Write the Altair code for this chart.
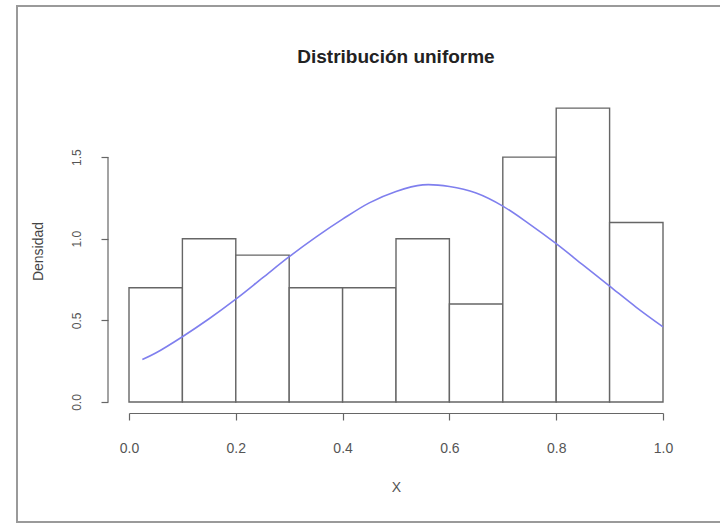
import altair as alt
import pandas as pd

# Histogram bins (density)
bin_start = [0.0, 0.1, 0.2, 0.3, 0.4, 0.5, 0.6, 0.7, 0.8, 0.9]
bin_end = [0.1, 0.2, 0.3, 0.4, 0.5, 0.6, 0.7, 0.8, 0.9, 1.0]
density = [0.7, 1.0, 0.9, 0.7, 0.7, 1.0, 0.6, 1.5, 1.8, 1.1]

# Density curve points
curve_x = [0.025, 0.05, 0.10, 0.15, 0.20, 0.25, 0.30, 0.35, 0.40, 0.45, 0.50,
           0.55, 0.60, 0.65, 0.70, 0.75, 0.80, 0.85, 0.90, 0.95, 1.00]
curve_y = [0.26, 0.30, 0.40, 0.51, 0.63, 0.76, 0.89, 1.01, 1.12, 1.22, 1.29,
           1.33, 1.32, 1.28, 1.20, 1.09, 0.97, 0.84, 0.71, 0.58, 0.46]

x_ticks = [0.0, 0.2, 0.4, 0.6, 0.8, 1.0]
y_ticks = [0.0, 0.5, 1.0, 1.5]

bars_df = pd.DataFrame({"start": bin_start, "end": bin_end, "density": density})
curve_df = pd.DataFrame({"x": curve_x, "y": curve_y})
yaxis_df = pd.DataFrame({"lo": [min(y_ticks)], "hi": [max(y_ticks)]})

FONT = "Liberation Sans"
AX_COLOR = "#666666"

xscale = alt.Scale(domain=[0, 1], nice=False, zero=False)
yscale = alt.Scale(domain=[0, 1.85], nice=False)

x_axis = alt.Axis(values=x_ticks, format=".1f", grid=False, offset=11,
                  domainColor=AX_COLOR, tickColor=AX_COLOR, tickSize=7,
                  domainWidth=1.2, tickWidth=1.2,
                  labelColor="#555555", labelFontSize=14, labelFont=FONT,
                  labelPadding=21, title="X", titleFont=FONT, titleFontSize=14,
                  titleColor="#555555", titleFontWeight="normal", titlePadding=25,
                  labelFlush=False)

y_axis = alt.Axis(values=y_ticks, format=".1f", grid=False, offset=21,
                  domain=False, tickColor=AX_COLOR, tickSize=7, tickWidth=1.2,
                  labelColor="#555555", labelFontSize=12, labelFont=FONT,
                  labelAngle=270, labelAlign="center", labelBaseline="bottom",
                  labelPadding=18, title="Densidad", titleFont=FONT, titleFontSize=14,
                  titleColor="#444444", titleFontWeight="normal", titlePadding=25)

bars = alt.Chart(bars_df).mark_rect(fill="white", stroke="#666666", strokeWidth=1.4).encode(
    x=alt.X("start:Q", scale=xscale, axis=x_axis),
    x2="end:Q",
    y=alt.Y("density:Q", scale=yscale, axis=y_axis),
    y2=alt.datum(0),
)

curve = alt.Chart(curve_df).mark_line(color="#7f7fee", strokeWidth=1.6, interpolate="catmull-rom").encode(
    x=alt.X("x:Q", scale=xscale),
    y=alt.Y("y:Q", scale=yscale),
)

yline = alt.Chart(yaxis_df).mark_rule(color=AX_COLOR, strokeWidth=1.2).encode(
    x=alt.value(-21),
    y=alt.Y("lo:Q", scale=yscale),
    y2="hi:Q",
)

frame = alt.Chart(yaxis_df).mark_rect(fill=None, stroke="#9a9a9a", strokeWidth=2).encode(
    x=alt.value(-112), x2=alt.value(595), y=alt.value(-94), y2=alt.value(422),
)

chart = alt.layer(frame, bars, curve, yline).properties(
    width=534,
    height=302,
    background="white",
    padding={"left": 129, "top": 100, "right": 57, "bottom": 122},
    autosize=alt.AutoSizeParams(type="none"),
    title=alt.TitleParams("Distribución uniforme", font=FONT, fontSize=19,
                          fontWeight="bold", color="#222222", anchor="middle",
                          offset=-62),
).configure_view(stroke=None, strokeWidth=0)

chart.save("out.html", embed_options={"renderer": "svg", "actions": False})
